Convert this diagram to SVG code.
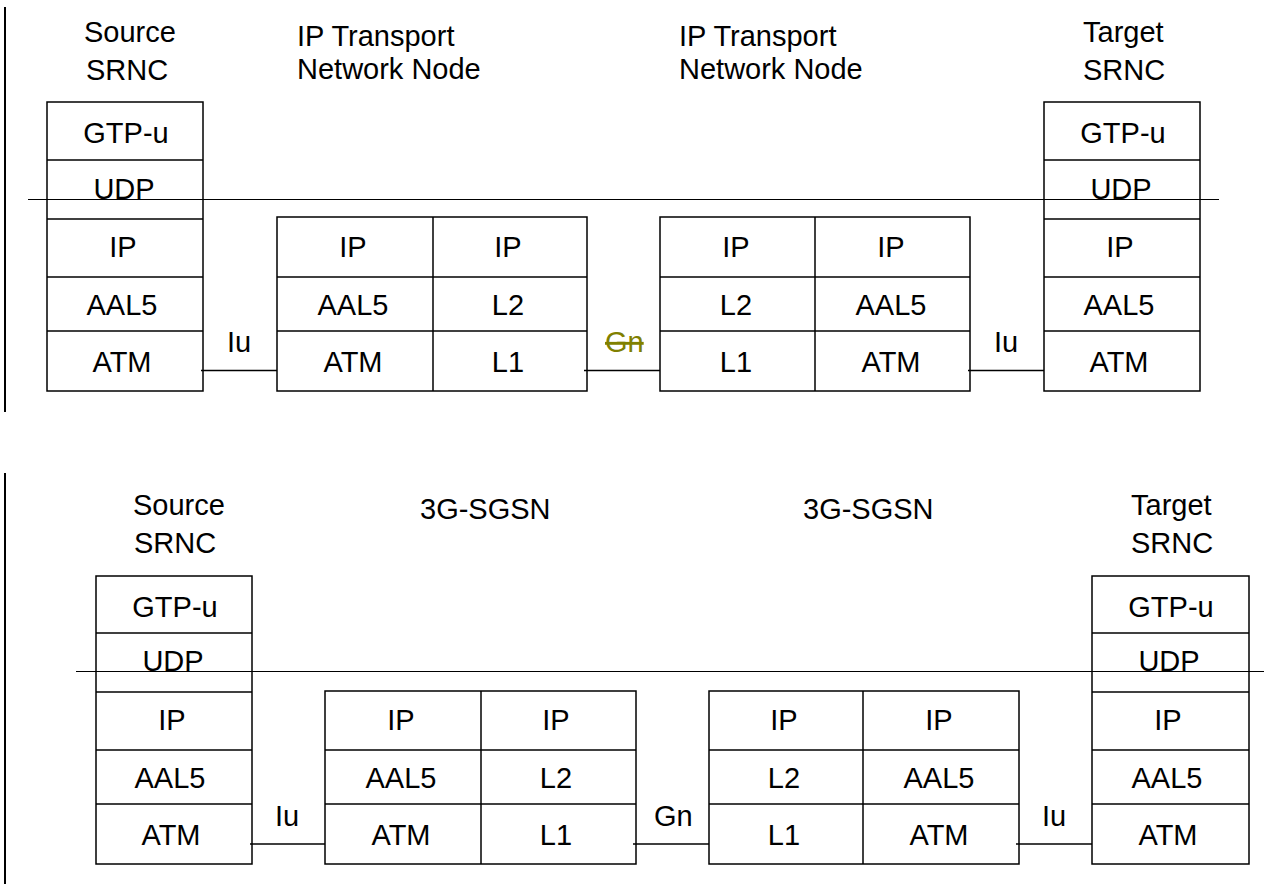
<svg xmlns="http://www.w3.org/2000/svg" width="1266" height="884" viewBox="0 0 1266 884">
<style>
.b{fill:none;stroke:#000;stroke-width:1.5}
.ln{stroke:#000;stroke-width:1.2;fill:none}
.bar{stroke:#000;stroke-width:2;fill:none}
.t{font-family:"Liberation Sans",Arial,sans-serif;font-size:29px;fill:#000}
.m{text-anchor:middle}
.gn{fill:#808000;text-decoration:line-through}
</style>
<rect width="1266" height="884" fill="#fff"/>

<!-- frame lines -->
<g id="frame">
<line class="bar" x1="5" y1="7" x2="5" y2="412"/>
<line class="bar" x1="5" y1="473" x2="5" y2="884"/>
<line class="ln" x1="28" y1="199.5" x2="1219" y2="199.5"/>
<line class="ln" x1="76" y1="671.5" x2="1264" y2="671.5"/>
</g>

<!-- connectors -->
<g id="connectors">
<line class="b" x1="201" y1="370.5" x2="277" y2="370.5"/>
<line class="b" x1="584" y1="370.5" x2="660" y2="370.5"/>
<line class="b" x1="968" y1="370.5" x2="1044" y2="370.5"/>
<line class="b" x1="250" y1="844" x2="325" y2="844"/>
<line class="b" x1="633" y1="844" x2="709" y2="844"/>
<line class="b" x1="1016" y1="844" x2="1092" y2="844"/>
<text class="t" x="227" y="352">Iu</text>
<text class="t gn" x="605" y="352">Gn</text>
<text class="t" x="994" y="352">Iu</text>
<text class="t" x="275" y="826">Iu</text>
<text class="t" x="654" y="826">Gn</text>
<text class="t" x="1042" y="826">Iu</text>
</g>

<!-- top diagram -->
<g id="top-source-srnc">
<text class="t" x="84" y="42">Source</text>
<text class="t" x="86" y="80">SRNC</text>
<rect class="b" x="47" y="102" width="156" height="289"/>
<line class="b" x1="47" y1="160" x2="203" y2="160"/>
<line class="b" x1="47" y1="219" x2="203" y2="219"/>
<line class="b" x1="47" y1="277" x2="203" y2="277"/>
<line class="b" x1="47" y1="331" x2="203" y2="331"/>
<text class="t m" x="126" y="143">GTP-u</text>
<text class="t m" x="124" y="199">UDP</text>
<text class="t m" x="123" y="257">IP</text>
<text class="t m" x="122" y="315">AAL5</text>
<text class="t m" x="122" y="372">ATM</text>
</g>

<g id="top-ip-node-1">
<text class="t" x="297" y="46">IP Transport</text>
<text class="t" x="297" y="79">Network Node</text>
<rect class="b" x="277" y="217" width="310" height="174"/>
<line class="b" x1="433" y1="217" x2="433" y2="391"/>
<line class="b" x1="277" y1="277" x2="587" y2="277"/>
<line class="b" x1="277" y1="331" x2="587" y2="331"/>
<text class="t m" x="353" y="257">IP</text>
<text class="t m" x="353" y="315">AAL5</text>
<text class="t m" x="353" y="372">ATM</text>
<text class="t m" x="508" y="257">IP</text>
<text class="t m" x="508" y="315">L2</text>
<text class="t m" x="508" y="372">L1</text>
</g>

<g id="top-ip-node-2">
<text class="t" x="679" y="46">IP Transport</text>
<text class="t" x="679" y="79">Network Node</text>
<rect class="b" x="660" y="217" width="310" height="174"/>
<line class="b" x1="815" y1="217" x2="815" y2="391"/>
<line class="b" x1="660" y1="277" x2="970" y2="277"/>
<line class="b" x1="660" y1="331" x2="970" y2="331"/>
<text class="t m" x="736" y="257">IP</text>
<text class="t m" x="736" y="315">L2</text>
<text class="t m" x="736" y="372">L1</text>
<text class="t m" x="891" y="257">IP</text>
<text class="t m" x="891" y="315">AAL5</text>
<text class="t m" x="891" y="372">ATM</text>
</g>

<g id="top-target-srnc">
<text class="t" x="1083" y="42">Target</text>
<text class="t" x="1083" y="80">SRNC</text>
<rect class="b" x="1044" y="102" width="156" height="289"/>
<line class="b" x1="1044" y1="160" x2="1200" y2="160"/>
<line class="b" x1="1044" y1="219" x2="1200" y2="219"/>
<line class="b" x1="1044" y1="277" x2="1200" y2="277"/>
<line class="b" x1="1044" y1="331" x2="1200" y2="331"/>
<text class="t m" x="1123" y="143">GTP-u</text>
<text class="t m" x="1121" y="199">UDP</text>
<text class="t m" x="1120" y="257">IP</text>
<text class="t m" x="1119" y="315">AAL5</text>
<text class="t m" x="1119" y="372">ATM</text>
</g>

<!-- bottom diagram -->
<g id="bottom-source-srnc">
<text class="t" x="133" y="515">Source</text>
<text class="t" x="134" y="553">SRNC</text>
<rect class="b" x="96" y="576" width="156" height="288"/>
<line class="b" x1="96" y1="633" x2="252" y2="633"/>
<line class="b" x1="96" y1="692" x2="252" y2="692"/>
<line class="b" x1="96" y1="750" x2="252" y2="750"/>
<line class="b" x1="96" y1="804" x2="252" y2="804"/>
<text class="t m" x="175" y="617">GTP-u</text>
<text class="t m" x="173" y="671">UDP</text>
<text class="t m" x="172" y="730">IP</text>
<text class="t m" x="170" y="788">AAL5</text>
<text class="t m" x="171" y="845">ATM</text>
</g>

<g id="bottom-sgsn-1">
<text class="t" x="420" y="519">3G-SGSN</text>
<rect class="b" x="325" y="691" width="311" height="173"/>
<line class="b" x1="481" y1="691" x2="481" y2="864"/>
<line class="b" x1="325" y1="750" x2="636" y2="750"/>
<line class="b" x1="325" y1="804" x2="636" y2="804"/>
<text class="t m" x="401" y="730">IP</text>
<text class="t m" x="401" y="788">AAL5</text>
<text class="t m" x="401" y="845">ATM</text>
<text class="t m" x="556" y="730">IP</text>
<text class="t m" x="556" y="788">L2</text>
<text class="t m" x="556" y="845">L1</text>
</g>

<g id="bottom-sgsn-2">
<text class="t" x="803" y="519">3G-SGSN</text>
<rect class="b" x="709" y="691" width="310" height="173"/>
<line class="b" x1="863" y1="691" x2="863" y2="864"/>
<line class="b" x1="709" y1="750" x2="1019" y2="750"/>
<line class="b" x1="709" y1="804" x2="1019" y2="804"/>
<text class="t m" x="784" y="730">IP</text>
<text class="t m" x="784" y="788">L2</text>
<text class="t m" x="784" y="845">L1</text>
<text class="t m" x="939" y="730">IP</text>
<text class="t m" x="939" y="788">AAL5</text>
<text class="t m" x="939" y="845">ATM</text>
</g>

<g id="bottom-target-srnc">
<text class="t" x="1131" y="515">Target</text>
<text class="t" x="1131" y="553">SRNC</text>
<rect class="b" x="1092" y="576" width="157" height="288"/>
<line class="b" x1="1092" y1="633" x2="1249" y2="633"/>
<line class="b" x1="1092" y1="692" x2="1249" y2="692"/>
<line class="b" x1="1092" y1="750" x2="1249" y2="750"/>
<line class="b" x1="1092" y1="804" x2="1249" y2="804"/>
<text class="t m" x="1171" y="617">GTP-u</text>
<text class="t m" x="1169" y="671">UDP</text>
<text class="t m" x="1168" y="730">IP</text>
<text class="t m" x="1167" y="788">AAL5</text>
<text class="t m" x="1168" y="845">ATM</text>
</g>
</svg>
